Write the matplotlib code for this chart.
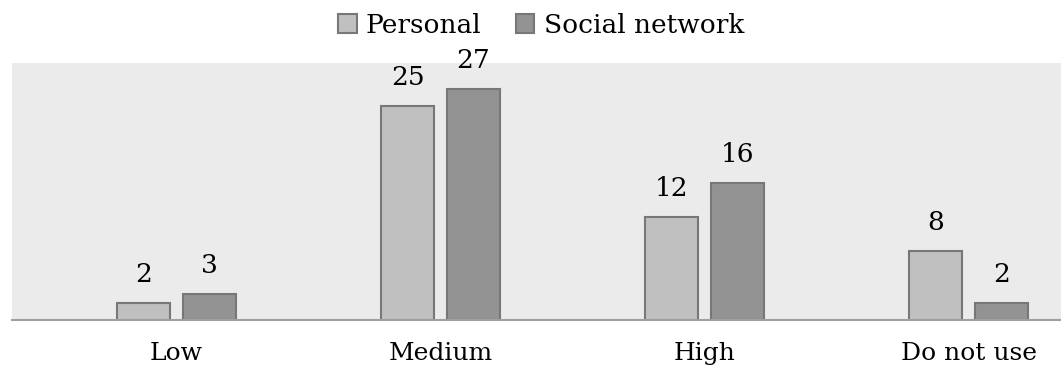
import matplotlib
matplotlib.use("Agg")
import matplotlib.pyplot as plt
import numpy as np

# usage level counts, personal vs social network
categories = ["Low", "Medium", "High", "Do not use"]
personal = [2, 25, 12, 8]
social_network = [3, 27, 16, 2]
series_names = ["Personal", "Social network"]

plt.rcParams["font.family"] = ["DejaVu Serif"]

fig = plt.figure(figsize=(10.61, 3.68), dpi=100)
ax = fig.add_axes([12 / 1061, 48 / 368, 1049 / 1061, 257 / 368])
ax.set_facecolor("#ebebeb")

x = np.arange(len(categories))
w = 0.2
fills = ["#c0c0c0", "#939393"]
for vals, off, col, name in zip([personal, social_network], [-0.125, 0.125], fills, series_names):
    bars = ax.bar(x + off, vals, width=w, color=col, edgecolor="#777777", linewidth=1.5, label=name)
    for b, v in zip(bars, vals):
        ax.annotate(str(v), (b.get_x() + b.get_width() / 2, v), xytext=(0, 16),
                    textcoords="offset pixels", ha="center", va="bottom", fontsize=19)

ax.set_xlim(-0.623, 3.35)
ax.set_ylim(0, 30)
for s in ["top", "left", "right"]:
    ax.spines[s].set_visible(False)
ax.spines["bottom"].set_color("#a0a0a0")
ax.spines["bottom"].set_linewidth(1.5)
ax.set_yticks([])
ax.set_xticks(x)
ax.set_xticklabels(categories, fontsize=18)
ax.tick_params(axis="x", length=0, pad=16)

fig.legend(loc="upper center", bbox_to_anchor=(0.51, 1.03), ncol=2, frameon=False,
           fontsize=19, handlelength=0.7, handleheight=0.7, handletextpad=0.35, columnspacing=1.3)

fig.savefig("out.png", dpi=100)
